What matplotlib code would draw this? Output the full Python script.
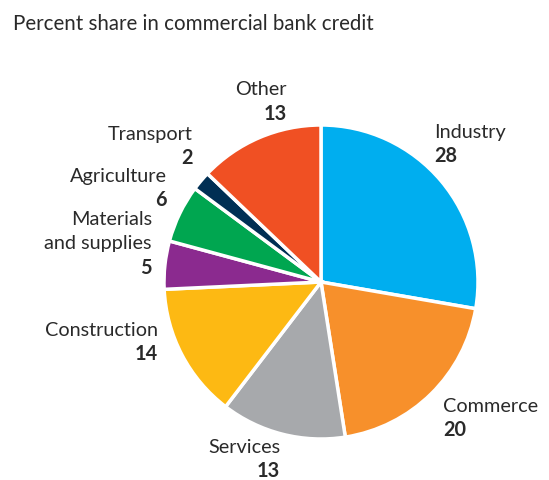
import matplotlib
matplotlib.use("Agg")
import matplotlib.pyplot as plt

categories = ["Industry", "Commerce", "Services", "Construction",
              "Materials\nand supplies", "Agriculture", "Transport", "Other"]
values = [28, 20, 13, 14, 5, 6, 2, 13]
colors = ["#00AEEF", "#F7902B", "#A7A9AC", "#FDB913",
          "#8B2A8F", "#00A650", "#002F54", "#F05023"]
title = "Percent share in commercial bank credit"

W, H = 549, 481
plt.rcParams['font.family'] = ['Lato', 'DejaVu Sans']
fig = plt.figure(figsize=(W / 100, H / 100), dpi=100)

cx, cy, r = 321, 283, 157
ax = fig.add_axes([(cx - r) / W, (H - cy - r) / H, 2 * r / W, 2 * r / H])
ax.pie(values, colors=colors, startangle=90, counterclock=False,
       wedgeprops=dict(edgecolor="white", linewidth=2.5), radius=1)
ax.set_xlim(-1, 1)
ax.set_ylim(-1, 1)
ax.set_aspect("auto")
ax.axis("off")

def fx(px):
    return px / W

def fy(py):
    return 1 - py / H

fs = 14.3
txtc = "#2a2a2a"
fig.text(fx(13), fy(30), title, fontsize=14.8, color=txtc, va="baseline", ha="left")

# (x px, baseline px of first line, ha)
label_pos = [
    (434, 138, "left"),
    (443, 412, "left"),
    (280, 453, "right"),
    (158, 336, "right"),
    (152, 225, "right"),
    (167, 182, "right"),
    (193, 140, "right"),
    (287, 95, "right"),
]
lh = 24.5
for cat, val, (px, py, ha) in zip(categories, values, label_pos):
    lines = cat.split("\n")
    for i, ln in enumerate(lines):
        fig.text(fx(px), fy(py + i * lh), ln, fontsize=fs, color=txtc,
                 ha=ha, va="baseline")
    fig.text(fx(px), fy(py + len(lines) * lh), str(val), fontsize=fs,
             fontweight="bold", color=txtc, ha=ha, va="baseline")

fig.savefig("out.png", dpi=100, facecolor="white")
